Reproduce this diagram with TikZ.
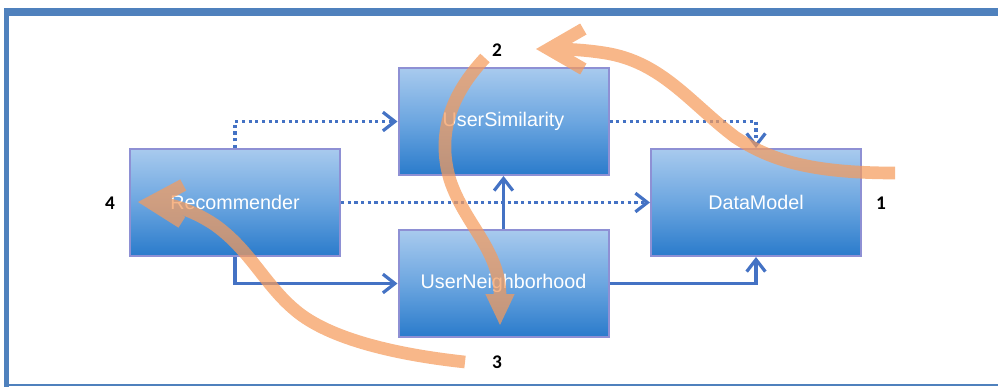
\documentclass[tikz,border=0pt]{standalone}
\usepackage{fontspec}
\setmainfont{Liberation Sans}
\newfontfamily\numfont{Carlito}
\usetikzlibrary{arrows.meta}
\definecolor{frameblue}{HTML}{4F81BD}
\definecolor{linkblue}{HTML}{4472C4}
\definecolor{boxtop}{HTML}{A8CAEE}
\definecolor{boxmid}{HTML}{6CA6E0}
\definecolor{boxbot}{HTML}{2A7BCB}
\definecolor{boxedge}{HTML}{8E90D4}
\definecolor{flowcol}{HTML}{F59B5C}
\tikzset{
  modbox/.style={draw=boxedge, line width=1.5pt, top color=boxtop, bottom color=boxbot, middle color=boxmid,
    minimum width=157.5pt, minimum height=80.25pt, inner sep=0pt,
    text=white, font=\fontsize{14.8}{16}\selectfont},
  link/.style={draw=linkblue, line width=2.4pt, -{Straight Barb[length=9pt,width=14pt]}},
  dots/.style={link, dash pattern=on 2.4pt off 2.6pt},
  flowline/.style={draw=flowcol, line width=9.5pt},
  num/.style={font=\numfont\bfseries\fontsize{14.5}{14.5}\selectfont, text=black, inner sep=0pt}
}
\begin{document}
\begin{tikzpicture}[x=0.75pt,y=-0.75pt]
\useasboundingbox (0,0) rectangle (998,387);
% frame
\fill[frameblue] (4,8) rectangle (998,16);
\fill[frameblue] (4,8) rectangle (9,387);
\fill[frameblue] (4,383.5) rectangle (998,385.5);
% boxes
\node[modbox] (rec) at (235,202.5) {Recommender};
\node[modbox] (us) at (503.5,121.5) {UserSimilarity};
\node[modbox] (un) at (503.5,283.5) {UserNeighborhood};
\node[modbox] (dm) at (756,202.5) {DataModel};
% connectors
\draw[dots] (rec.north) |- (us.west);
\draw[dots] (us.east) -| (dm.north);
\draw[dots] (rec.east) -- (dm.west);
\draw[link] (rec.south) |- (un.west);
\draw[link] (un.north) -- (us.south);
\draw[link] (un.east) -| (dm.south);
% orange flow arrows
\begin{scope}[transparency group, opacity=0.72]
\draw[flowline, -{Straight Barb[length=26pt,width=30pt]}]
  (895,173) .. controls (810,173) and (770,160) .. (735,137)
  .. controls (690,103) and (662,62) .. (605,53)
  .. controls (580,49) and (558,49) .. (536,49);
\draw[flowline, -{Triangle[length=24pt,width=20pt]}]
  (485,58) .. controls (455,90) and (435,130) .. (450,180)
  .. controls (465,225) and (500,250) .. (500,326);
\draw[flowline, -{Straight Barb[length=24pt,width=28pt]}]
  (465,362) .. controls (400,355) and (330,340) .. (295,310)
  .. controls (265,285) and (250,250) .. (215,225)
  .. controls (190,208) and (165,203) .. (138,202);
\end{scope}
% step numbers
\node[num] (n1) at (881,203) {1};
\node[num] (n2) at (497,50) {2};
\node[num] (n3) at (497,362) {3};
\node[num] (n4) at (110,203) {4};
\end{tikzpicture}
\end{document}
